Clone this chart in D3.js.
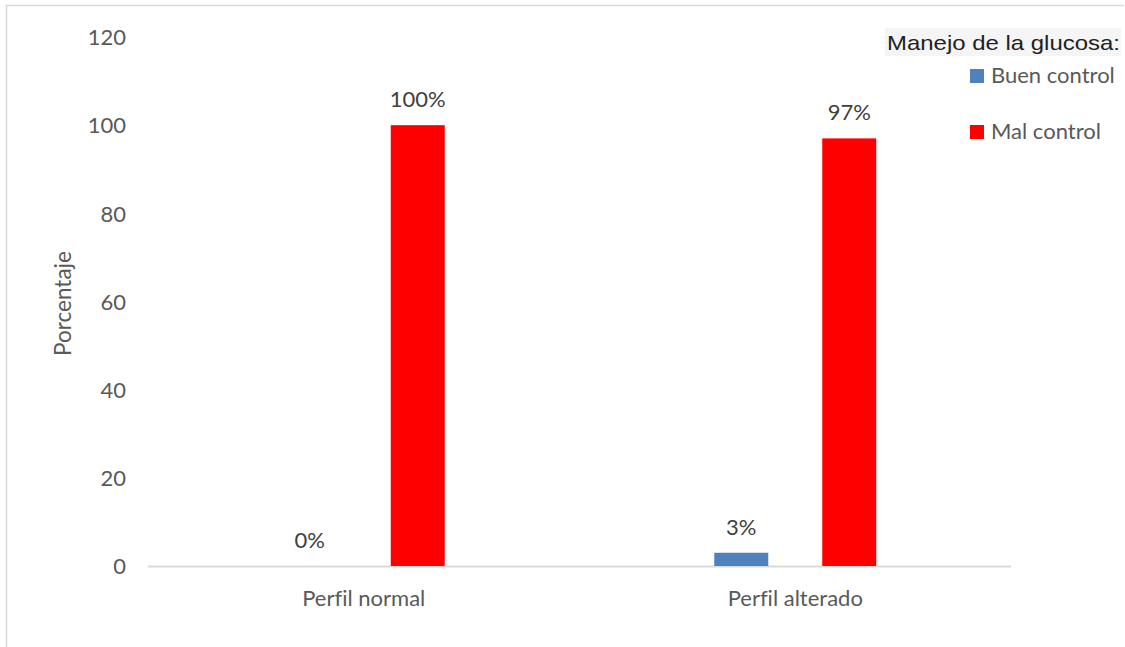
<!DOCTYPE html>
<html>
<head>
<meta charset="utf-8">
<script src="https://cdn.jsdelivr.net/npm/d3@7"></script>
<style>
  html, body { margin: 0; padding: 0; background: #fff; }
  svg { display: block; }
  text { font-variant-ligatures: none; font-feature-settings: "liga" 0, "clig" 0; }
</style>
</head>
<body>
<svg id="chart" width="1125" height="647"></svg>
<script>
const categories = ["Perfil normal", "Perfil alterado"];
const seriesNames = ["Buen control", "Mal control"];
const buenControl = [0, 3];
const malControl = [100, 97];
const dataLabels = [["0%", "100%"], ["3%", "97%"]]; // per category: [buen, mal]
const yTicks = [0, 20, 40, 60, 80, 100, 120];
const colors = ["#4f81bd", "#ff0000"];
const legendTitle = "Manejo de la glucosa:";
const yTitle = "Porcentaje";

(function () {
const svg = d3.select("#chart");
const font = "Lato, 'Carlito', 'Open Sans', sans-serif";
const textColor = "#595959";

// frame
svg.append("line").attr("x1", 6).attr("x2", 1124).attr("y1", 5.5).attr("y2", 5.5)
  .attr("stroke", "#d9d9d9").attr("stroke-width", 1.5);
svg.append("line").attr("x1", 6.5).attr("x2", 6.5).attr("y1", 5).attr("y2", 647)
  .attr("stroke", "#d9d9d9").attr("stroke-width", 1.5);

const pLeft = 148, pRight = 1011, pTop = 37, pBottom = 566;

const y = d3.scaleLinear().domain([0, 120]).range([pBottom, pTop]);
const x0 = d3.scaleBand().domain(categories).range([pLeft, pRight]).padding(0);
const x1 = d3.scaleBand().domain(seriesNames).range([0, x0.bandwidth()])
  .paddingInner(0.5).paddingOuter(1.248);

const table = categories.map((c, i) => ({
  cat: c,
  values: [
    { s: seriesNames[0], v: buenControl[i], label: dataLabels[i][0], color: colors[0] },
    { s: seriesNames[1], v: malControl[i], label: dataLabels[i][1], color: colors[1] }
  ]
}));

// y axis labels
const yAxis = d3.axisLeft(y).tickValues(yTicks).tickSize(0).tickPadding(0);
const gy = svg.append("g").attr("transform", `translate(126,0)`).call(yAxis);
gy.select(".domain").remove();
gy.selectAll("text").attr("font-family", font).attr("font-size", "22px")
  .attr("fill", textColor).attr("dy", "0.35em");

// baseline
svg.append("line").attr("x1", pLeft).attr("x2", pRight).attr("y1", y(0) + 0.5).attr("y2", y(0) + 0.5)
  .attr("stroke", "#d9d9d9").attr("stroke-width", 2);

// bars
const groups = svg.append("g").selectAll("g").data(table).join("g")
  .attr("transform", d => `translate(${x0(d.cat)},0)`);
groups.selectAll("rect").data(d => d.values).join("rect")
  .attr("x", d => x1(d.s))
  .attr("width", x1.bandwidth())
  .attr("y", d => y(d.v))
  .attr("height", d => y(0) - y(d.v))
  .attr("fill", d => d.color);
groups.selectAll("text").data(d => d.values).join("text")
  .attr("x", d => x1(d.s) + x1.bandwidth() / 2)
  .attr("y", d => y(d.v) - 18)
  .attr("text-anchor", "middle")
  .attr("font-family", font).attr("font-size", "22px")
  .attr("fill", "#404040")
  .text(d => d.label);

// x axis labels
const xAxis = d3.axisBottom(x0).tickSize(0).tickPadding(0);
const gx = svg.append("g").attr("transform", `translate(0,${pBottom})`).call(xAxis);
gx.select(".domain").remove();
gx.selectAll("text").attr("font-family", font).attr("font-size", "22px")
  .attr("fill", textColor).attr("dy", "0").attr("y", 40);

// y title
svg.append("text")
  .attr("transform", `translate(71,${(pTop + pBottom) / 2 + 2}) rotate(-90)`)
  .attr("text-anchor", "middle")
  .attr("font-family", font).attr("font-size", "22.5px")
  .attr("fill", textColor)
  .text(yTitle);

// legend title
svg.append("rect").attr("x", 885).attr("y", 28).attr("width", 236).attr("height", 28)
  .attr("fill", "#f5f5f5");
svg.append("text").attr("x", 887).attr("y", 50)
  .attr("font-family", "'Liberation Sans', Arial, sans-serif").attr("font-size", "21px")
  .attr("fill", "#222")
  .attr("textLength", 233).attr("lengthAdjust", "spacingAndGlyphs")
  .text(legendTitle);

// legend items
const legendY = [69, 125];
const lg = svg.append("g").selectAll("g").data(seriesNames).join("g")
  .attr("transform", (d, i) => `translate(970,${legendY[i]})`);
lg.append("rect").attr("width", 14).attr("height", 14).attr("fill", (d, i) => colors[i]);
lg.append("text").attr("x", 21).attr("y", 14)
  .attr("font-family", font).attr("font-size", "22px")
  .attr("fill", textColor)
  .text(d => d);
})();
</script>
</body>
</html>
